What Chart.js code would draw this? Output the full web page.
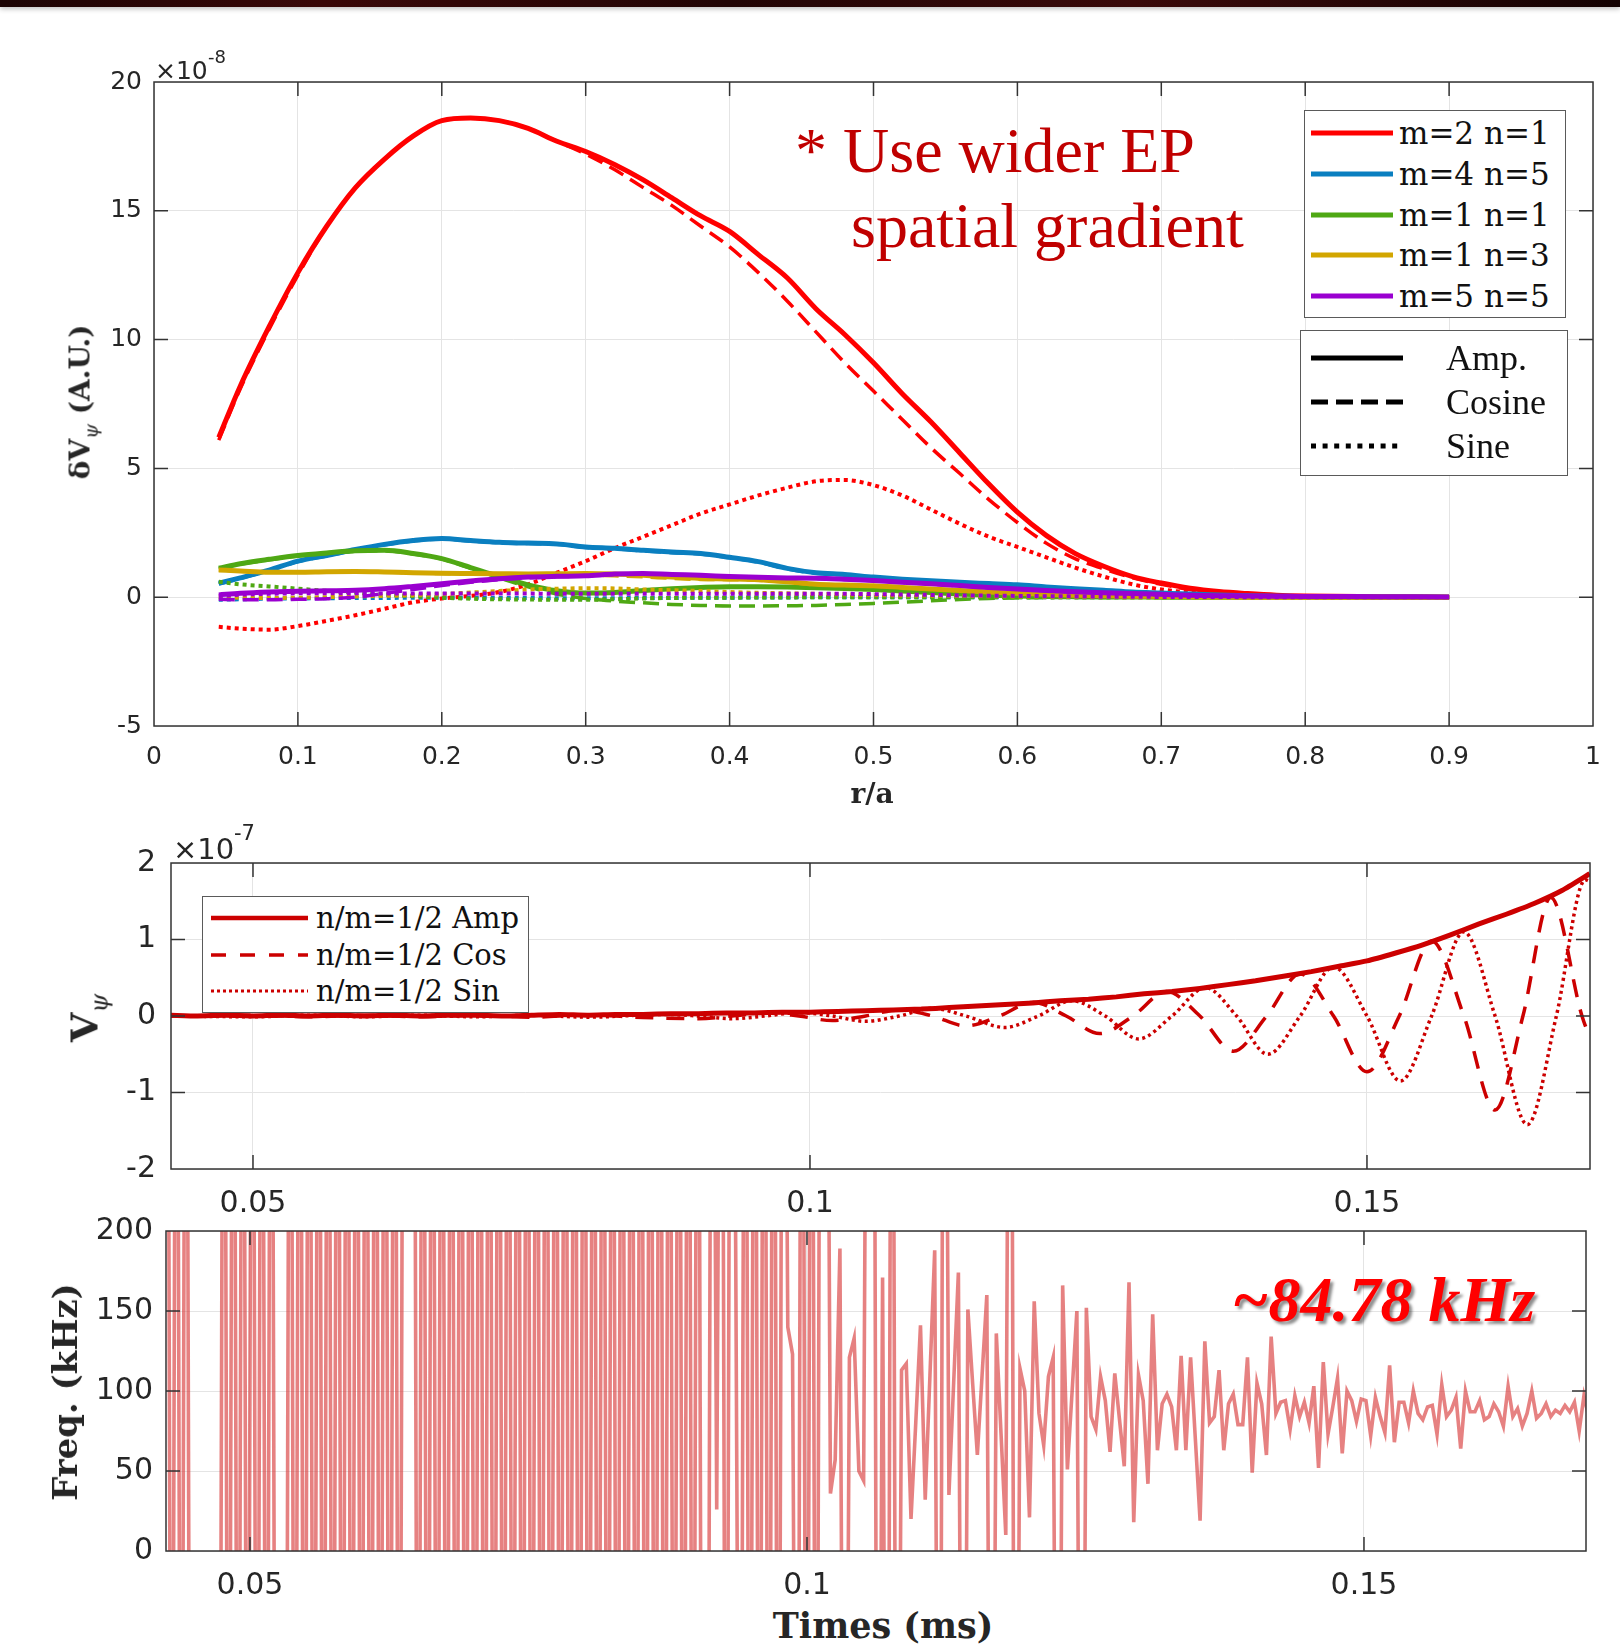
<!DOCTYPE html>
<html><head><meta charset="utf-8">
<script src="https://cdn.jsdelivr.net/npm/chart.js@4.4.1/dist/chart.umd.min.js"></script>
<style>
html,body{margin:0;padding:0;background:#fff;}
body{width:1620px;height:1652px;position:relative;overflow:hidden;font-family:'DejaVu Sans',sans-serif;}
#topbar{position:absolute;left:0;top:0;width:1620px;height:7px;background:linear-gradient(90deg,#1c0404,#3a0808 20%,#220505 45%,#3a0a0a 70%,#140202);box-shadow:0 2px 5px rgba(0,0,0,0.25);z-index:5;}
.cv{position:absolute;left:0;}
.t{position:absolute;white-space:nowrap;line-height:1;}
.rot{transform:translate(-50%,-50%) rotate(-90deg);}
.ctr{transform:translate(-50%,-50%);}
.lg{position:absolute;background:#fff;border:1.5px solid #5a5a5a;box-sizing:border-box;z-index:4;}
.lg .row{position:absolute;left:0;right:0;height:0;}
.lg svg{position:absolute;top:-6px;}
.lg .lt{position:absolute;line-height:1;transform:translateY(-50%);color:#111;white-space:nowrap;}
</style></head><body>
<div id="topbar"></div>
<canvas id="c1" class="cv" style="top:40px" width="1620" height="760"></canvas>
<canvas id="c2" class="cv" style="top:830px" width="1620" height="400"></canvas>
<canvas id="c3" class="cv" style="top:1200px" width="1620" height="400"></canvas>

<div class="t" style="left:155px;top:58px;font-size:25px;color:#262626;">×10</div>
<div class="t" style="left:208px;top:48px;font-size:18px;color:#262626;">-8</div>
<div class="t" style="left:173px;top:835px;font-size:29px;color:#262626;">×10</div>
<div class="t" style="left:234px;top:823px;font-size:21px;color:#262626;">-7</div>

<div class="t ctr" style="left:872px;top:793px;font:bold 28px 'DejaVu Serif';color:#262626;">r/a</div>
<div class="t rot" style="left:80px;top:402px;font:bold 28px 'DejaVu Serif';color:#262626;">δV<span style="font-style:italic;font-weight:normal;font-size:19px;position:relative;top:8px;">ψ</span> (A.U.)</div>
<div class="t rot" style="left:84px;top:1018px;font:bold 38px 'DejaVu Serif';color:#262626;">V<span style="font-style:italic;font-weight:normal;font-size:24px;position:relative;top:10px;">ψ</span></div>
<div class="t rot" style="left:65px;top:1392px;font:bold 34px 'DejaVu Serif';color:#262626;">Freq. (kHz)</div>
<div class="t ctr" style="left:883px;top:1625px;font:bold 35px 'DejaVu Serif';color:#262626;">Times (ms)</div>

<div class="t" style="left:795px;top:114px;font:64px 'Liberation Serif';color:#c00000;">* Use wider EP</div>
<div class="t" style="left:851px;top:189px;font:64px 'Liberation Serif';color:#c00000;">spatial gradient</div>
<div class="t" style="left:1232px;top:1263px;font:italic bold 64px 'Liberation Serif';color:#ff0000;text-shadow:3px 3px 3px rgba(0,0,0,0.45);">~84.78 kHz</div>

<div id="lg1" class="lg" style="left:1304px;top:110px;width:262px;height:208px;"></div>
<div id="lg2" class="lg" style="left:1300px;top:330px;width:268px;height:146px;"></div>
<div id="lg3" class="lg" style="left:202px;top:896px;width:327px;height:117px;"></div>

<script>
// ---------------- Panel 1 data (r/a, values x1e-8) ----------------
const rA = [0.045,0.06,0.08,0.10,0.12,0.14,0.16,0.18,0.20,0.22,0.24,0.26,0.28,0.30,0.32,0.34,0.36,0.38,0.40,0.42,0.44,0.46,0.48,0.50,0.52,0.54,0.56,0.58,0.60,0.62,0.64,0.66,0.68,0.70,0.72,0.74,0.76,0.78,0.80,0.85,0.90];

const m21Amp = [6.2,8.2,10.5,12.6,14.4,15.9,17.0,17.9,18.5,18.6,18.5,18.2,17.7,17.3,16.8,16.2,15.5,14.8,14.2,13.3,12.4,11.2,10.2,9.1,7.9,6.8,5.6,4.4,3.3,2.4,1.7,1.2,0.8,0.55,0.35,0.22,0.14,0.08,0.05,0.02,0.0];
const m21Cos = [6.1,8.1,10.4,12.5,14.4,15.9,17.0,17.9,18.5,18.6,18.5,18.2,17.7,17.2,16.6,15.9,15.2,14.4,13.6,12.6,11.5,10.3,9.1,8.0,6.9,5.8,4.8,3.8,2.9,2.1,1.5,1.1,0.75,0.5,0.3,0.18,0.1,0.05,0.02,0.0,0.0];
const m21Sin = [-1.15,-1.22,-1.26,-1.12,-0.92,-0.7,-0.45,-0.2,-0.05,0.05,0.2,0.5,0.95,1.4,1.9,2.35,2.8,3.25,3.6,3.95,4.25,4.5,4.55,4.35,3.95,3.4,2.85,2.35,1.95,1.55,1.15,0.8,0.5,0.3,0.18,0.1,0.05,0.02,0.0,0.0,0.0];

const m45Amp = [0.54,0.75,1.05,1.4,1.62,1.85,2.05,2.2,2.28,2.2,2.13,2.1,2.07,1.95,1.9,1.82,1.75,1.7,1.55,1.38,1.12,0.95,0.88,0.78,0.7,0.64,0.58,0.53,0.48,0.4,0.33,0.27,0.2,0.16,0.12,0.09,0.06,0.04,0.02,0.01,0.0];
const m45Cos = [0.52,0.73,1.03,1.38,1.6,1.83,2.03,2.18,2.26,2.18,2.11,2.08,2.05,1.93,1.88,1.8,1.73,1.68,1.53,1.36,1.1,0.93,0.86,0.76,0.68,0.62,0.56,0.51,0.46,0.38,0.31,0.25,0.19,0.15,0.11,0.08,0.05,0.03,0.02,0.01,0.0];
const m45Sin = [-0.1,-0.08,-0.06,-0.05,-0.04,-0.03,-0.03,-0.02,-0.02,-0.02,-0.03,-0.03,-0.04,-0.04,-0.04,-0.03,-0.03,-0.02,-0.02,-0.01,-0.01,0,0,0,0,0,0,0,0,0,0,0,0,0,0,0,0,0,0,0,0];

const m11Amp = [1.13,1.3,1.47,1.62,1.72,1.8,1.82,1.7,1.5,1.15,0.8,0.48,0.25,0.16,0.18,0.26,0.33,0.38,0.41,0.41,0.4,0.37,0.34,0.3,0.24,0.18,0.12,0.08,0.05,0.03,0.02,0.01,0.01,0,0,0,0,0,0,0,0];
const m11Cos = [1.1,1.28,1.45,1.6,1.7,1.78,1.8,1.68,1.48,1.12,0.75,0.4,0.12,-0.05,-0.15,-0.22,-0.28,-0.32,-0.34,-0.34,-0.33,-0.32,-0.28,-0.24,-0.19,-0.14,-0.09,-0.05,-0.03,-0.02,-0.01,-0.01,0,0,0,0,0,0,0,0,0];
const m11Sin = [0.6,0.5,0.42,0.33,0.25,0.18,0.1,0.04,-0.02,-0.06,-0.08,-0.09,-0.1,-0.1,-0.08,-0.05,-0.03,-0.02,-0.02,-0.01,-0.01,0,0,0,0,0,0,0,0,0,0,0,0,0,0,0,0,0,0,0,0];

const m13Amp = [1.06,1.02,0.97,0.97,0.99,1.0,0.98,0.95,0.93,0.92,0.91,0.9,0.91,0.92,0.9,0.85,0.78,0.73,0.71,0.68,0.6,0.5,0.47,0.44,0.38,0.32,0.26,0.2,0.15,0.11,0.08,0.06,0.04,0.03,0.02,0.01,0,0,0,0,0];
const m13Cos = [1.06,1.02,0.97,0.97,0.99,1.0,0.98,0.94,0.92,0.9,0.89,0.86,0.85,0.85,0.83,0.79,0.73,0.69,0.68,0.66,0.58,0.48,0.46,0.43,0.37,0.31,0.25,0.2,0.15,0.11,0.08,0.06,0.04,0.03,0.02,0.01,0,0,0,0,0];
const m13Sin = [0.0,-0.02,-0.03,-0.02,0.0,0.03,0.05,0.08,0.12,0.18,0.24,0.3,0.33,0.35,0.34,0.3,0.27,0.24,0.2,0.17,0.15,0.13,0.11,0.09,0.07,0.06,0.05,0.04,0.03,0.02,0.01,0.01,0,0,0,0,0,0,0,0,0];

const m55Amp = [0.09,0.15,0.2,0.23,0.25,0.27,0.33,0.42,0.52,0.63,0.72,0.78,0.81,0.83,0.9,0.92,0.88,0.85,0.8,0.77,0.75,0.74,0.7,0.65,0.58,0.52,0.45,0.38,0.32,0.26,0.21,0.17,0.14,0.11,0.08,0.06,0.05,0.04,0.03,0.02,0.01];
const m55Cos = [-0.08,-0.1,-0.1,-0.08,-0.06,0.0,0.15,0.3,0.45,0.58,0.68,0.75,0.79,0.82,0.89,0.91,0.87,0.84,0.79,0.76,0.74,0.73,0.69,0.64,0.57,0.51,0.44,0.37,0.31,0.25,0.2,0.16,0.13,0.1,0.07,0.05,0.04,0.03,0.02,0.01,0.0];
const m55Sin = [0.05,0.1,0.13,0.15,0.15,0.15,0.14,0.14,0.14,0.14,0.14,0.14,0.13,0.13,0.13,0.13,0.13,0.13,0.13,0.13,0.13,0.13,0.13,0.12,0.1,0.09,0.07,0.06,0.05,0.04,0.03,0.02,0.02,0.01,0.01,0.01,0,0,0,0,0];

const modeLabels = ['m=2 n=1','m=4 n=5','m=1 n=1','m=1 n=3','m=5 n=5'];
const modeColors = ['#ff0000','#0a7fc0','#4fa814','#d2a600','#9a00d0'];
const compLabels = ['Amp.','Cosine','Sine'];
const p1XTicks = [0,0.1,0.2,0.3,0.4,0.5,0.6,0.7,0.8,0.9,1];
const p1YTicks = [-5,0,5,10,15,20];

// ---------------- Panel 2 data (time ms, V x1e-7) ----------------
const ampT = [0.0426,0.045,0.0475,0.05,0.0525,0.055,0.0575,0.06,0.0625,0.065,0.0675,0.07,0.0725,0.075,0.0775,0.08,0.0825,0.085,0.0875,0.09,0.0925,0.095,0.0975,0.1,0.1025,0.105,0.1075,0.11,0.1125,0.115,0.1175,0.12,0.1225,0.125,0.1275,0.13,0.1325,0.135,0.1375,0.14,0.1425,0.145,0.1475,0.15,0.1525,0.155,0.1575,0.16,0.1625,0.165,0.1675,0.17];
const ampV = [0.01,0.0,0.01,0.0,0.01,0.0,0.01,0.0,0.01,0.0,0.01,0.01,0.0,0.01,0.02,0.01,0.02,0.02,0.03,0.03,0.04,0.04,0.05,0.05,0.06,0.07,0.08,0.09,0.11,0.13,0.15,0.17,0.2,0.22,0.25,0.29,0.32,0.36,0.41,0.46,0.52,0.58,0.65,0.72,0.82,0.93,1.06,1.2,1.33,1.47,1.64,1.86];
const cosT = [0.0426,0.05,0.055,0.06,0.065,0.07,0.075,0.08,0.085,0.09,0.093,0.096,0.099,0.102,0.105,0.108,0.111,0.114,0.117,0.12,0.123,0.126,0.129,0.132,0.135,0.138,0.141,0.144,0.147,0.15,0.1529,0.1558,0.1587,0.1615,0.164,0.1665,0.1693,0.17];
const cosV = [0.0,0.01,-0.01,0.01,-0.01,0.01,-0.015,0.015,-0.02,-0.035,0.0,0.04,0.0,-0.06,0.0,0.08,0.0,-0.13,0.0,0.18,0.0,-0.23,0.0,0.32,0.0,-0.46,0.0,0.55,0.0,-0.73,0.0,0.98,0.0,-1.23,0.0,1.55,0.0,-0.28];
const sinT = [0.0426,0.05,0.055,0.06,0.065,0.07,0.075,0.08,0.087,0.09,0.093,0.096,0.099,0.102,0.105,0.108,0.111,0.114,0.1175,0.1205,0.1235,0.1265,0.1295,0.1325,0.1355,0.1383,0.1411,0.144,0.147,0.15,0.153,0.1558,0.1587,0.1615,0.1644,0.167,0.1696,0.17];
const sinV = [0.0,-0.01,0.01,-0.01,0.01,-0.01,0.01,-0.015,0.02,0.0,-0.035,0.0,0.045,0.0,-0.07,0.0,0.1,0.0,-0.15,0.0,0.2,0.0,-0.3,0.0,0.37,0.0,-0.5,0.0,0.64,0.0,-0.85,0.0,1.1,0.0,-1.42,0.0,1.78,1.76];
const p2Labels = ['n/m=1/2 Amp','n/m=1/2 Cos','n/m=1/2 Sin'];
const timeTicks = [0.05,0.1,0.15];
const p2YTicks = [-2,-1,0,1,2];

// ---------------- Panel 3 data (instantaneous frequency, kHz) ----------------
// uniform sample grid of the analysed signal
const FREQ_T0 = 0.04255, FREQ_DT = 0.0004254;
const freqLeft = [600,-400,600,-400,600,-400,
 -400,-400,-400,-400,-400,-400,
 600,-400,600,-400,600,-400,600,-400,600,-400,600,-400,
 -400,-400,
 600,-400,600,-400,600,-400,600,-400,600,-400,600,-400,600,-400,600,-400,600,-400,600,-400,600,-400,600,-400,600,
 600,600,
 -400,600,-400,600,-400,600,-400,600,-400,600,-400,600,-400,600,-400,600,-400,600,-400,600,-400,600,-400,600,-400,600,-400,600,-400,600,-400,600,-400,600,-400,600,-400,600,-400,600,-400,600,-400,600,-400,600,-400,600,-400,600,-400,600,-400,600,-400,600,-400,600,-400,
 600,-400,-400,600,26,600,-400,600,192,-400,600,-400,600,-400,600,-400,600,-400,600,140,123,-400,600,-400,600,-400,600,600,36,57,189,-400,121,133,50,44,600];
const freqRight = [600,-400,171,-400,600,-400,113,117,20,80,
 141,32,110,188,-400,600,35,105,174,-400,
 151,105,60,110,160,-400,136,73,10,600,
 -400,114,100,21,156,86,66,109,121,-400,
 166,51,100,150,-400,152,84,76,109,94,
 62,111,82,53,168,18,110,94,42,148,
 63,92,98,90,63,122,63,121,70,19,
 131,80,84,113,63,92,98,79,79,121,
 49,105,92,60,134,86,93,94,76,97,
 84,93,80,103,52,118,73,90,108,61,
 100,94,81,95,94,72,96,84,74,116,
 68,93,93,80,100,86,82,90,91,73,
 104,84,88,96,64,100,87,87,94,82,
 84,92,87,78,103,84,89,78,86,100,
 83,86,92,84,88,86,91,87,93,75,
 97,84,87];
const p3YTicks = [0,50,100,150,200];

// ---------------- helpers ----------------
Chart.defaults.font.family = "'DejaVu Sans'";
Chart.defaults.color = '#262626';
const zip = (xs, ys) => ys.map((v, i) => ({x: xs[i], y: v}));
const GRID = '#e4e4e4';

const boxPlugin = {
  id: 'mbox',
  afterDatasetsDraw(chart) {
    const {ctx, chartArea: a} = chart;
    const x = chart.scales.x, y = chart.scales.y;
    const L = 14;
    ctx.save();
    ctx.strokeStyle = '#333';
    ctx.lineWidth = 1.5;
    ctx.beginPath();
    x.ticks.forEach(t => {
      const px = x.getPixelForValue(t.value);
      if (px <= a.left + 1 || px >= a.right - 1) return;
      ctx.moveTo(px, a.bottom); ctx.lineTo(px, a.bottom - L);
      ctx.moveTo(px, a.top); ctx.lineTo(px, a.top + L);
    });
    y.ticks.forEach(t => {
      const py = y.getPixelForValue(t.value);
      if (py <= a.top + 1 || py >= a.bottom - 1) return;
      ctx.moveTo(a.left, py); ctx.lineTo(a.left + L, py);
      ctx.moveTo(a.right, py); ctx.lineTo(a.right - L, py);
    });
    ctx.stroke();
    ctx.strokeRect(a.left, a.top, a.right - a.left, a.bottom - a.top);
    ctx.restore();
  }
};

function fixedTicks(list) {
  return s => { s.ticks = list.map(v => ({value: v})); };
}

function axes(o) {
  return {
    x: {
      type: 'linear', min: o.xmin, max: o.xmax,
      afterBuildTicks: fixedTicks(o.xt),
      afterFit: s => { s.height = o.xh; },
      grid: {color: GRID, lineWidth: 1, drawTicks: false},
      border: {display: false},
      ticks: {padding: o.xpad, font: {size: o.fs}, color: '#262626', maxRotation: 0, autoSkip: false,
              callback: v => String(Math.round(v * 1000) / 1000)}
    },
    y: {
      type: 'linear', min: o.ymin, max: o.ymax,
      afterBuildTicks: fixedTicks(o.yt),
      afterFit: s => { s.width = o.yw; },
      grid: {color: GRID, lineWidth: 1, drawTicks: false},
      border: {display: false},
      ticks: {padding: o.ypad, font: {size: o.fs}, color: '#262626', autoSkip: false,
              callback: v => String(v)}
    }
  };
}

const baseOpts = (pad, sc) => ({
  responsive: false, animation: false, devicePixelRatio: 1,
  layout: {padding: pad},
  plugins: {legend: {display: false}, tooltip: {enabled: false}},
  elements: {point: {radius: 0}},
  scales: sc
});

// ---------------- Chart 1 ----------------
const modeSeries = [
  [m21Amp, m21Cos, m21Sin],
  [m45Amp, m45Cos, m45Sin],
  [m11Amp, m11Cos, m11Sin],
  [m13Amp, m13Cos, m13Sin],
  [m55Amp, m55Cos, m55Sin]
];
const compStyle = [
  {w: 5, dash: []},
  {w: 3.5, dash: [16, 8]},
  {w: 4, dash: [4, 4]}
];
const ds1 = [];
[4, 3, 2, 1, 0].forEach(mi => {
  [0, 1, 2].forEach(ci => {
    ds1.push({
      label: modeLabels[mi] + ' ' + compLabels[ci],
      data: zip(rA, modeSeries[mi][ci]),
      borderColor: modeColors[mi],
      borderWidth: compStyle[ci].w,
      borderDash: compStyle[ci].dash,
      borderCapStyle: 'butt',
      fill: false, tension: 0.35, cubicInterpolationMode: 'monotone'
    });
  });
});
new Chart(document.getElementById('c1'), {
  type: 'line',
  data: {datasets: ds1},
  options: baseOpts({left: 0, top: 42, right: 27, bottom: 14},
    axes({xmin: 0, xmax: 1, xt: p1XTicks, xh: 60, xpad: 16, ymin: -5, ymax: 20, yt: p1YTicks, yw: 154, ypad: 12, fs: 25})),
  plugins: [boxPlugin]
});

// ---------------- Chart 2 ----------------
const RED2 = '#cc0000';
new Chart(document.getElementById('c2'), {
  type: 'line',
  data: {datasets: [
    {label: p2Labels[0], data: zip(ampT, ampV), borderColor: RED2, borderWidth: 5, tension: 0.2, fill: false},
    {label: p2Labels[1], data: zip(cosT, cosV), borderColor: RED2, borderWidth: 3.5, borderDash: [18, 13], cubicInterpolationMode: 'monotone', fill: false},
    {label: p2Labels[2], data: zip(sinT, sinV), borderColor: RED2, borderWidth: 3.5, borderDash: [3, 3.5], cubicInterpolationMode: 'monotone', fill: false}
  ]},
  options: baseOpts({left: 0, top: 32, right: 30, bottom: 0},
    axes({xmin: 0.04264, xmax: 0.17002, xt: timeTicks, xh: 61, xpad: 17, ymin: -2, ymax: 2, yt: p2YTicks, yw: 171, ypad: 15, fs: 30})),
  plugins: [boxPlugin]
});

// ---------------- Chart 3 ----------------
const freqV = freqLeft.concat(freqRight);
const freqData = freqV.map((v, i) => ({x: FREQ_T0 + i * FREQ_DT, y: v}));
new Chart(document.getElementById('c3'), {
  type: 'line',
  data: {datasets: [
    {label: 'Freq', data: freqData, borderColor: 'rgba(214,52,52,0.62)', borderWidth: 3.6, tension: 0, fill: false, clip: 0}
  ]},
  options: baseOpts({left: 0, top: 30, right: 34, bottom: 0},
    axes({xmin: 0.04246, xmax: 0.16993, xt: timeTicks, xh: 49, xpad: 17, ymin: 0, ymax: 200, yt: p3YTicks, yw: 166, ypad: 13, fs: 30})),
  plugins: [boxPlugin]
});

// ---------------- Legends ----------------
function svgLine(w, color, width, dash) {
  return `<svg width="${w}" height="12"><line x1="0" y1="6" x2="${w}" y2="6" stroke="${color}" stroke-width="${width}"${dash ? ` stroke-dasharray="${dash}"` : ''}/></svg>`;
}
function row(box, cy, lineX, lineW, svgHtml, textX, text, font) {
  const r = document.createElement('div');
  r.className = 'row';
  r.style.top = cy + 'px';
  r.innerHTML = `<div style="position:absolute;left:${lineX}px;">${svgHtml}</div><div class="lt" style="left:${textX}px;font:${font};">${text}</div>`;
  box.appendChild(r);
}
const lg1 = document.getElementById('lg1');
modeLabels.forEach((lab, i) => row(lg1, 22 + i * 40.8, 6, 82, svgLine(82, modeColors[i], 5, ''), 94, lab, "31px 'DejaVu Serif'"));
const lg2 = document.getElementById('lg2');
const lg2Dash = ['', '17 8', '5 6.6'];
compLabels.forEach((lab, i) => row(lg2, 27 + i * 44, 10, 92, svgLine(92, '#000', 5, lg2Dash[i]), 145, lab, "36px 'Liberation Serif'"));
const lg3 = document.getElementById('lg3');
const lg3Dash = ['', '15 14', '3 3'];
const lg3W = [4.5, 3.5, 3];
p2Labels.forEach((lab, i) => row(lg3, 21 + i * 36.5, 8, 97, svgLine(97, RED2, lg3W[i], lg3Dash[i]), 113, lab, "29px 'DejaVu Serif'"));
</script>
</body></html>
